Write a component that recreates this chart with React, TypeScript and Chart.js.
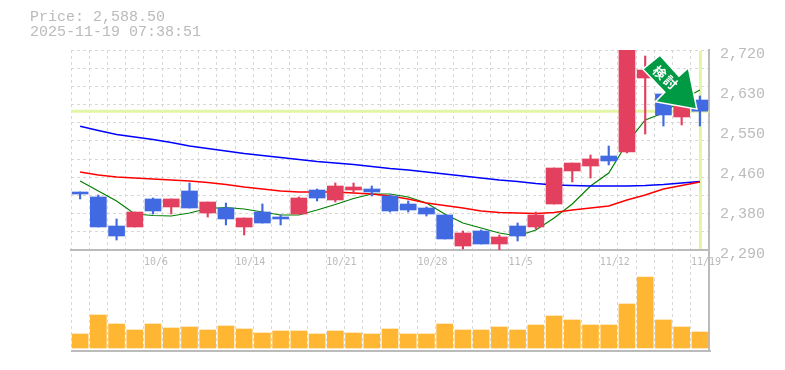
import React, { useEffect, useRef } from "react";
import { Chart, registerables } from "chart.js";

Chart.register(...registerables);

const dates = ["9/30","10/1","10/2","10/3","10/6","10/7","10/8","10/9","10/10","10/14","10/15","10/16","10/17","10/20","10/21","10/22","10/23","10/24","10/27","10/28","10/29","10/30","10/31","11/4","11/5","11/6","11/7","11/10","11/11","11/12","11/13","11/14","11/17","11/18","11/19"];
const shownDates = ["10/6","10/14","10/21","10/28","11/5","11/12","11/19"];

const opens = [2414.7,2404,2341.6,2339.5,2399.7,2382.5,2416.9,2369.6,2380.3,2339.5,2371.7,2361,2367.4,2419,2397.5,2419,2421.2,2406.1,2388.9,2380.3,2365.3,2298.6,2330.9,2302.9,2341.6,2339.5,2388.9,2459.9,2470.6,2492.1,2500.7,2659.8,2625.4,2576,2612.5];
const closes = [2410.4,2339.5,2320.1,2371.7,2373.9,2399.7,2380.3,2393.2,2356.7,2358.8,2348,2356.7,2401.8,2401.8,2427.6,2425.5,2414.7,2373.9,2376,2367.4,2313.7,2326.6,2302.9,2318,2320.1,2365.3,2466.3,2477,2485.7,2481.4,2760,2677,2580.3,2599.6,2588.5];
const highs = [2414.7,2408.3,2356.7,2371.7,2401.8,2399.7,2434.1,2393.2,2391,2358.8,2388.9,2365.3,2404,2421.2,2434.1,2434.1,2427.6,2408.3,2395.4,2382.5,2365.3,2330.9,2333,2322.3,2348,2371.7,2466.3,2477,2494.3,2513.6,2760,2707.1,2625.4,2599.6,2621.1];
const lows = [2399.7,2339.5,2311.5,2339.5,2367.4,2367.4,2380.3,2361,2343.8,2322.3,2348,2343.8,2367.4,2395.4,2393.2,2414.7,2406.1,2371.7,2371.7,2363.1,2313.7,2292.2,2302.9,2290,2309.4,2335.2,2388.9,2436.2,2444.8,2472.8,2498.6,2539.4,2556.6,2558.8,2556.6];

const maShort = [2438.4,2416.9,2395.4,2367.4,2364.2,2363.1,2369.6,2379.2,2381.4,2378.2,2371.7,2365.3,2365.3,2376,2387.8,2400.7,2410.4,2410.4,2404,2391.1,2367.4,2348,2337.3,2326.6,2320.1,2333,2358.8,2388.9,2427.6,2455.6,2520,2569.5,2584.6,2612.5,2634];
const maMid = [2457.7,2451.3,2447,2444.8,2442.7,2440.5,2438.4,2435.1,2430.8,2425.5,2421.2,2416.9,2414.7,2414.7,2414.7,2412.6,2410.4,2406.1,2399.7,2391.1,2385.7,2380.3,2373.9,2370.6,2369.6,2368.5,2370.6,2376,2380.3,2384.6,2397.5,2408.3,2421.2,2428.7,2436.2];
const maLong = [2556,2546.9,2538.3,2533,2527.6,2521.1,2513.6,2508.2,2502.9,2497.5,2493.2,2488.9,2484.6,2480.3,2477,2473.8,2469.5,2465.2,2462,2457.7,2453.4,2449.1,2444.8,2440.5,2437.3,2433,2429.8,2428.7,2427.6,2427.6,2427.6,2428.7,2430.8,2434,2437.3];

const volumes = [14,33,24,18,24,20,21,18,22,19,15,17,17,14,17,15,14,19,14,14,24,18,18,21,18,23,32,28,23,23,44,71,28,21,16];

const priceMin = 2290;
const priceMax = 2720;
const priceTicks = [2290,2376,2462,2548,2634,2720];
const priceTickLabels = ["2,290","2,380","2,460","2,550","2,630","2,720"];
const gridDivisions = 11;
const lastPrice = 2588.5;
const headline = "Price: 2,588.50";
const stamp = "2025-11-19 07:38:51";
const badgeText = "検討";

const UP = "#E34060";
const DOWN = "#4169E1";
const AXIS = "#bbbbbb";
const GRID = "#d8d8d8";
const HILITE = "#E2F5A6";
const TEXT = "#bbbbbb";
const MONO = '"Liberation Mono", monospace';

const overlays = {
  id: "overlays",
  beforeDatasetsDraw(chart: any) {
    const { ctx, chartArea, scales } = chart;
    const x = scales.x.getPixelForValue(dates.length - 1);
    const y = scales.y.getPixelForValue(lastPrice);
    const bottom = scales.y.getPixelForValue(priceMin);
    ctx.save();
    ctx.strokeStyle = HILITE;
    ctx.lineWidth = 3;
    ctx.beginPath();
    ctx.moveTo(chartArea.left, y);
    ctx.lineTo(chartArea.right, y);
    ctx.moveTo(x + 0.5, chartArea.top + 1);
    ctx.lineTo(x + 0.5, bottom - 1);
    ctx.stroke();
    ctx.strokeStyle = AXIS;
    ctx.lineWidth = 2;
    ctx.beginPath();
    ctx.moveTo(chartArea.left, chartArea.bottom + 1);
    ctx.lineTo(chartArea.right + 2, chartArea.bottom + 1);
    ctx.stroke();
    ctx.restore();
  },
  afterDatasetsDraw(chart: any) {
    const { ctx, scales } = chart;
    const tipX = scales.x.getPixelForValue(dates.length - 1) - 4;
    const tipY = scales.y.getPixelForValue(lastPrice) - 3;
    const outline = [[0,0],[-8,-39],[-17,-31],[-36,-52],[-52,-39],[-30,-16],[-39,-7]];
    ctx.save();
    ctx.beginPath();
    outline.forEach(([dx, dy], i) => {
      if (i === 0) ctx.moveTo(tipX + dx, tipY + dy);
      else ctx.lineTo(tipX + dx, tipY + dy);
    });
    ctx.closePath();
    ctx.fillStyle = "#009944";
    ctx.strokeStyle = "#ffffff";
    ctx.lineWidth = 3;
    ctx.stroke();
    ctx.fill();
    ctx.translate(tipX - 30, tipY - 30);
    ctx.rotate((42 * Math.PI) / 180);
    ctx.fillStyle = "#ffffff";
    ctx.font = 'bold 13px "Noto Sans CJK JP"';
    (ctx as any).letterSpacing = "2px";
    ctx.textAlign = "center";
    ctx.textBaseline = "middle";
    ctx.fillText(badgeText, 0, 0);
    ctx.restore();
  },
};

export default function App() {
  const ref = useRef<HTMLCanvasElement>(null);
  useEffect(() => {
    const colors = opens.map((o, i) => (closes[i] >= o ? UP : DOWN));
    const chart = new Chart(ref.current!, {
      type: "bar",
      data: {
        labels: dates,
        datasets: [
          { type: "bar", label: "Body", data: opens.map((o, i) => [o, closes[i]]), backgroundColor: colors, barThickness: 16, grouped: false, yAxisID: "y", order: 1 },
          { type: "bar", label: "Wick", data: lows.map((l, i) => [l, highs[i]]), backgroundColor: colors, barThickness: 1.5, grouped: false, yAxisID: "y", order: 2 },
          { type: "line", label: "MA short", data: maShort, borderColor: "#008000", borderWidth: 1.2, pointRadius: 0, yAxisID: "y", order: 5 },
          { type: "line", label: "MA long", data: maLong, borderColor: "#0000ff", borderWidth: 1.4, pointRadius: 0, yAxisID: "y", order: 4 },
          { type: "line", label: "MA mid", data: maMid, borderColor: "#ff0000", borderWidth: 1.4, pointRadius: 0, yAxisID: "y", order: 3 },
          { type: "bar", label: "Volume", data: volumes, backgroundColor: "#FFB733", barThickness: 16, grouped: false, yAxisID: "vol", order: 6 },
        ],
      } as any,
      options: {
        responsive: false,
        animation: false,
        layout: { padding: { left: 71, top: 50, right: 0, bottom: 20 } },
        plugins: { legend: { display: false }, tooltip: { enabled: false }, title: { display: false } },
        scales: {
          x: {
            type: "category",
            position: { y: priceMin },
            offset: true,
            grid: { offset: true, color: GRID, lineWidth: 1, drawTicks: false },
            border: { display: true, color: AXIS, width: 2, dash: [3, 3] },
            ticks: {
              autoSkip: false,
              maxRotation: 0,
              align: "start",
              labelOffset: -9,
              padding: 6,
              color: TEXT,
              font: { family: '"DejaVu Sans Mono", monospace', size: 10 },
              callback(this: any, v: any) {
                const l = this.getLabelForValue(v);
                return shownDates.includes(l) ? l : "";
              },
            },
          },
          y: {
            type: "linear",
            position: "right",
            stack: "main",
            stackWeight: 2,
            weight: 1,
            min: priceMin,
            max: priceMax,
            afterFit(s: any) { s.width = 76; },
            afterBuildTicks(s: any) {
              const values = [...priceTicks];
              for (let i = 1; i < gridDivisions; i++) values.push(priceMin + (i * (priceMax - priceMin)) / gridDivisions);
              s.ticks = values.sort((a, b) => a - b).map((value) => ({ value }));
            },
            grid: {
              drawTicks: false,
              lineWidth: 1,
              color(ctx: any) {
                const v = ctx.tick?.value;
                return priceTicks.includes(v) && v !== priceMin && v !== priceMax ? "transparent" : GRID;
              },
            },
            border: { display: true, color: AXIS, width: 2, dash: [3, 3] },
            ticks: {
              autoSkip: false,
              padding: 11,
              labelOffset: 4,
              color: TEXT,
              font: { family: MONO, size: 15 },
              callback(v: any) {
                const i = priceTicks.indexOf(v);
                return i >= 0 ? priceTickLabels[i] : "";
              },
            },
          },
          vol: {
            type: "linear",
            position: "right",
            stack: "main",
            stackWeight: 1,
            weight: 2,
            min: -2,
            max: 98,
            grid: { display: false },
            border: { display: true, color: AXIS, width: 2 },
            ticks: { display: false },
          },
        },
      } as any,
      plugins: [overlays],
    });
    return () => chart.destroy();
  }, []);
  const line: React.CSSProperties = { position: "absolute", left: 30, font: `15px ${MONO}`, color: TEXT, whiteSpace: "pre", lineHeight: "15px" };
  return (
    <div style={{ position: "fixed", left: 0, top: 0, width: 785, height: 370, background: "#fff" }}>
      <canvas ref={ref} width={785} height={370} style={{ display: "block" }} />
      <div style={{ ...line, top: 10 }}>{headline}</div>
      <div style={{ ...line, top: 25 }}>{stamp}</div>
    </div>
  );
}
